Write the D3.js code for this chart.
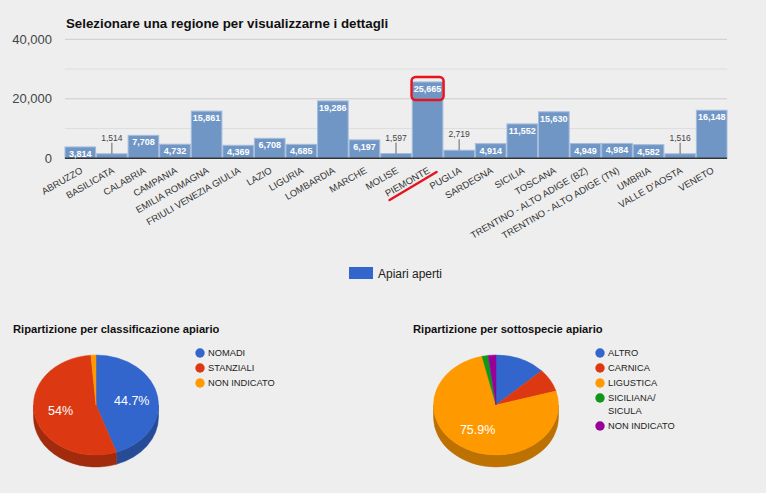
<!DOCTYPE html>
<html>
<head>
<meta charset="utf-8">
<script src="https://cdn.jsdelivr.net/npm/d3@7"></script>
<style>
  body { margin: 0; background: #eeeeee; }
  svg { display: block; font-family: Arial, "Liberation Sans", sans-serif; }
</style>
</head>
<body>
<div id="chart"></div>
<script>
// data
var regions = ["ABRUZZO", "BASILICATA", "CALABRIA", "CAMPANIA", "EMILIA ROMAGNA",
  "FRIULI VENEZIA GIULIA", "LAZIO", "LIGURIA", "LOMBARDIA", "MARCHE", "MOLISE",
  "PIEMONTE", "PUGLIA", "SARDEGNA", "SICILIA", "TOSCANA",
  "TRENTINO - ALTO ADIGE (BZ)", "TRENTINO - ALTO ADIGE (TN)", "UMBRIA",
  "VALLE D'AOSTA", "VENETO"];
var apiari = [3814, 1514, 7708, 4732, 15861, 4369, 6708, 4685, 19286, 6197, 1597,
  25665, 2719, 4914, 11552, 15630, 4949, 4984, 4582, 1516, 16148];
var yTicks = [0, 20000, 40000];
var selected = "PIEMONTE";

var classLabels = ["NOMADI", "STANZIALI", "NON INDICATO"];
var classValues = [44.7, 54.0, 1.3];
var classColors = ["#3366cc", "#dc3912", "#ff9900"];

var subLabels = ["ALTRO", "CARNICA", "LIGUSTICA", "SICILIANA/\nSICULA", "NON INDICATO"];
var subValues = [13.0, 7.5, 75.9, 1.6, 2.0];
var subColors = ["#3366cc", "#dc3912", "#ff9900", "#109618", "#990099"];

// svg area
var svgWidth = 766;
var svgHeight = 493;

var svg = d3.select("#chart")
  .append("svg")
  .attr("width", svgWidth)
  .attr("height", svgHeight);

svg.append("rect")
  .attr("width", svgWidth)
  .attr("height", svgHeight)
  .attr("fill", "#eeeeee");

// ---------- bar chart ----------
var plot = { left: 65, right: 727, top: 39.3, bottom: 158.3 };

var x = d3.scaleBand()
  .domain(regions)
  .range([plot.left, plot.right])
  .paddingInner(0.03);

var y = d3.scaleLinear()
  .domain([0, 40000])
  .range([plot.bottom, plot.top]);

svg.append("text")
  .attr("x", 66)
  .attr("y", 28)
  .attr("font-size", "13.3px")
  .attr("font-weight", "bold")
  .attr("fill", "#111")
  .text("Selezionare una regione per visualizzarne i dettagli");

// gridlines (major + minor)
var gridVals = d3.range(0, 40001, 10000);
svg.append("g")
  .selectAll("line")
  .data(gridVals)
  .enter()
  .append("line")
  .attr("x1", plot.left)
  .attr("x2", plot.right)
  .attr("y1", d => y(d))
  .attr("y2", d => y(d))
  .attr("stroke", d => d % 20000 === 0 ? "#cccccc" : "#dddddd")
  .attr("stroke-width", 1);

// y axis
var leftAxis = d3.axisLeft(y)
  .tickValues(yTicks)
  .tickSize(0)
  .tickPadding(13)
  .tickFormat(d3.format(","));

var yAxisG = svg.append("g")
  .attr("transform", `translate(${plot.left}, 0)`)
  .call(leftAxis);
yAxisG.select(".domain").remove();
yAxisG.selectAll("text")
  .attr("font-size", "13px")
  .attr("font-family", "Arial, 'Liberation Sans', sans-serif")
  .attr("fill", "#444");

// bars
svg.append("g")
  .selectAll("rect")
  .data(apiari)
  .enter()
  .append("rect")
  .attr("x", (d, i) => x(regions[i]))
  .attr("y", d => y(d))
  .attr("width", x.bandwidth())
  .attr("height", d => y(0) - y(d))
  .attr("fill", "#7096c6")
  .attr("stroke", "#a4bcdd")
  .attr("stroke-width", 1);

// baseline
svg.append("line")
  .attr("x1", plot.left)
  .attr("x2", plot.right)
  .attr("y1", y(0))
  .attr("y2", y(0))
  .attr("stroke", "#333")
  .attr("stroke-width", 1.5);

// value labels
var fmt = d3.format(",");
var labels = svg.append("g");
apiari.forEach(function(v, i) {
  var cx = x(regions[i]) + x.bandwidth() / 2;
  if (v >= 3000) {
    labels.append("text")
      .attr("x", cx)
      .attr("y", y(v) + 10)
      .attr("text-anchor", "middle")
      .attr("font-size", "9px")
      .attr("font-weight", "bold")
      .attr("fill", "#ffffff")
      .text(fmt(v));
  } else {
    labels.append("line")
      .attr("x1", cx).attr("x2", cx)
      .attr("y1", y(v) - 11).attr("y2", y(v))
      .attr("stroke", "#666").attr("stroke-width", 1);
    labels.append("text")
      .attr("x", cx)
      .attr("y", y(v) - 13)
      .attr("text-anchor", "middle")
      .attr("font-size", "8.5px")
      .attr("fill", "#444")
      .text(fmt(v));
  }
});

// x labels rotated
svg.append("g")
  .selectAll("text")
  .data(regions)
  .enter()
  .append("text")
  .attr("transform", d => `translate(${x(d) + x.bandwidth() / 2 + 3}, ${plot.bottom + 14}) rotate(-30)`)
  .attr("text-anchor", "end")
  .attr("font-size", "9.5px")
  .attr("fill", "#333")
  .text(d => d);

// highlight on the selected region
var selX = x(selected) + x.bandwidth() / 2;
var selV = apiari[regions.indexOf(selected)];
svg.append("rect")
  .attr("x", selX - 16)
  .attr("y", y(selV) - 5)
  .attr("width", 32)
  .attr("height", 23)
  .attr("rx", 4)
  .attr("fill", "none")
  .attr("stroke", "#e8141c")
  .attr("stroke-width", 2.5);
svg.append("line")
  .attr("x1", selX - 38).attr("y1", 200)
  .attr("x2", selX + 9).attr("y2", 172)
  .attr("stroke", "#e8141c")
  .attr("stroke-width", 2.5)
  .attr("stroke-linecap", "round");

// legend
svg.append("rect")
  .attr("x", 349).attr("y", 267)
  .attr("width", 24).attr("height", 12)
  .attr("fill", "#3366cc");
svg.append("text")
  .attr("x", 378).attr("y", 277.5)
  .attr("font-size", "12px")
  .attr("fill", "#222")
  .text("Apiari aperti");

// ---------- 3D pies ----------
function drawPie3D(cx, cy, rx, ry, depth, values, colors) {
  var g = svg.append("g");
  var arcs = d3.pie().sort(null).value(d => d)(values);
  function pt(a, dy) {
    return [cx + rx * Math.sin(a), cy - ry * Math.cos(a) + (dy || 0)];
  }

  // side walls (front half only)
  arcs.forEach(function(a, i) {
    var s = Math.max(a.startAngle, Math.PI / 2);
    var e = Math.min(a.endAngle, 3 * Math.PI / 2);
    if (s >= e) return;
    var p0 = pt(s), p1 = pt(e), p2 = pt(e, depth), p3 = pt(s, depth);
    g.append("path")
      .attr("d", `M${p0}A${rx},${ry} 0 0 1 ${p1}L${p2}A${rx},${ry} 0 0 0 ${p3}Z`)
      .attr("fill", d3.color(colors[i]).darker(0.85))
      .attr("stroke", d3.color(colors[i]).darker(0.85))
      .attr("stroke-width", 0.5);
  });

  // top faces
  arcs.forEach(function(a, i) {
    var p0 = pt(a.startAngle), p1 = pt(a.endAngle);
    var large = a.endAngle - a.startAngle > Math.PI ? 1 : 0;
    g.append("path")
      .attr("d", `M${cx},${cy}L${p0}A${rx},${ry} 0 ${large} 1 ${p1}Z`)
      .attr("fill", colors[i])
      .attr("stroke", colors[i])
      .attr("stroke-width", 0.5);
  });

  // percentage labels
  arcs.forEach(function(a, i) {
    var total = d3.sum(values);
    var pct = a.value / total * 100;
    if (pct < 15) return;
    var mid = (a.startAngle + a.endAngle) / 2;
    var p = [cx + rx * 0.58 * Math.sin(mid), cy - ry * 0.58 * Math.cos(mid)];
    g.append("text")
      .attr("x", p[0])
      .attr("y", p[1])
      .attr("dy", "0.35em")
      .attr("text-anchor", "middle")
      .attr("font-size", "12.5px")
      .attr("fill", "#ffffff")
      .text(d3.format(".3~")(pct) + "%");
  });
}

function drawPieLegend(lx, ly, labels, colors, lineGap) {
  var g = svg.append("g");
  var yy = ly;
  labels.forEach(function(lbl, i) {
    var lines = lbl.split("\n");
    g.append("circle")
      .attr("cx", lx).attr("cy", yy)
      .attr("r", 4.7)
      .attr("fill", colors[i]);
    lines.forEach(function(t, j) {
      g.append("text")
        .attr("x", lx + 8)
        .attr("y", yy + j * 13)
        .attr("dy", "0.35em")
        .attr("font-size", "9.3px")
        .attr("fill", "#222")
        .text(t);
    });
    yy += lineGap + (lines.length - 1) * 13;
  });
}

// left pie
svg.append("text")
  .attr("x", 13).attr("y", 333)
  .attr("font-size", "11.2px")
  .attr("font-weight", "bold")
  .attr("fill", "#111")
  .text("Ripartizione per classificazione apiario");
drawPie3D(96, 405, 62.5, 50, 12, classValues, classColors);
drawPieLegend(200, 353, classLabels, classColors, 15);

// right pie
svg.append("text")
  .attr("x", 413).attr("y", 333)
  .attr("font-size", "11.2px")
  .attr("font-weight", "bold")
  .attr("fill", "#111")
  .text("Ripartizione per sottospecie apiario");
drawPie3D(496, 405, 62.5, 50, 12, subValues, subColors);
drawPieLegend(600, 353, subLabels, subColors, 15);
</script>
</body>
</html>
